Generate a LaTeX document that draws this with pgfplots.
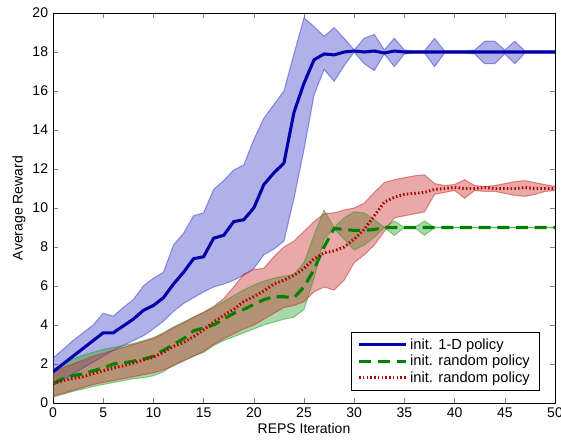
\documentclass[border=0pt]{standalone}
\usepackage{fontspec}
\setmainfont{Liberation Sans}
\usepackage{pgfplots}
\pgfplotsset{compat=1.18}
\usepgfplotslibrary{fillbetween}

\definecolor{lblue}{RGB}{0,0,170}
\definecolor{lgreen}{RGB}{0,128,0}
\definecolor{lred}{RGB}{175,0,0}
\definecolor{bblue}{RGB}{60,60,200}
\definecolor{bgreen}{RGB}{40,160,40}
\definecolor{bred}{RGB}{200,40,40}

% mean and band (upper/lower) per iteration
\pgfplotstableread{
x  bm    bu    bl    gm    gu    gl    rm    ru    rl
0  1.6   2.3   0.9   1.0   1.7   0.3   1.0   1.6   0.35
1  2.0   2.75  1.2   1.25  2.0   0.45  1.15  1.8   0.5
2  2.4   3.2   1.5   1.4   2.25  0.6   1.25  2.0   0.65
3  2.8   3.6   1.8   1.5   2.45  0.72  1.35  2.2   0.8
4  3.2   4.0   2.1   1.65  2.6   0.85  1.5   2.4   0.95
5  3.6   4.6   2.4   1.8   2.75  0.95  1.65  2.55  1.05
6  3.6   4.45  2.7   2.0   2.85  1.05  1.8   2.7   1.15
7  3.95  4.9   2.95  2.05  2.95  1.15  1.9   2.85  1.25
8  4.3   5.3   3.2   2.15  3.05  1.25  2.05  3.0   1.35
9  4.75  6.0   3.45  2.25  3.2   1.3   2.2   3.15  1.45
10 5.0   6.4   3.8   2.4   3.35  1.4   2.35  3.3   1.55
11 5.4   6.7   4.2   2.7   3.6   1.6   2.6   3.55  1.7
12 6.1   8.1   4.7   3.0   3.9   1.95  2.9   3.85  1.9
13 6.7   8.7   5.1   3.3   4.15  2.2   3.1   4.1   2.15
14 7.4   9.6   5.4   3.7   4.4   2.4   3.4   4.4   2.4
15 7.5   9.75  5.7   3.85  4.65  2.6   3.75  4.65  2.65
16 8.45  10.95 5.95  4.0   4.9   2.95  4.15  4.95  3.0
17 8.6   11.4  6.1   4.3   5.2   3.2   4.5   5.35  3.3
18 9.3   11.95 6.3   4.6   5.5   3.4   4.8   5.95  3.55
19 9.4   12.2  6.55  4.8   5.8   3.6   5.2   6.6   3.8
20 10.0  13.5  6.9   5.05  6.05  3.8   5.45  6.85  4.0
21 11.2  14.6  7.6   5.3   6.25  4.0   5.75  6.9   4.3
22 11.8  15.3  7.9   5.45  6.4   4.15  6.1   7.5   4.6
23 12.3  16.0  8.3   5.45  6.5   4.3   6.3   8.0   4.9
24 14.9  17.9  10.5  5.4   6.6   4.4   6.55  8.3   5.0
25 16.4  19.75 13.0  5.95  7.2   4.8   6.9   8.8   5.2
26 17.6  19.3  15.8  6.85  8.6   6.4   7.4   9.3   5.7
27 17.9  18.8  17.1  8.0   9.9   8.4   7.7   9.7   5.95
28 17.85 19.25 16.5  8.95  9.0   8.95  7.8   9.75  5.8
29 18.0  18.7  17.3  8.9   9.5   8.4   8.0   9.9   6.3
30 18.05 18.1  18.0  8.85  9.8   7.85  8.4   10.0  7.2
31 18.0  18.7  17.4  8.85  9.75  8.1   8.9   10.25 7.6
32 18.05 18.9  17.05 8.9   9.4   8.5   9.6   10.8  8.1
33 17.95 18.1  17.9  9.0   9.0   9.0   10.3  11.3  8.8
34 18.05 18.7  17.25 9.0   9.33  8.6   10.55 11.45 9.5
35 18.0  18.1  17.9  9.0   9.0   9.0   10.7  11.55 9.6
36 18.0  18.05 17.95 9.0   9.0   9.0   10.75 11.65 9.7
37 18.0  18.05 17.95 9.0   9.33  8.6   10.8  11.7  9.8
38 18.0  18.7  17.25 9.0   9.0   9.0   10.95 11.25 10.7
39 18.0  18.05 17.95 9.0   9.0   9.0   11.0  11.15 10.8
40 18.0  18.05 17.95 9.0   9.0   9.0   11.05 11.2  10.9
41 18.0  18.05 17.95 9.0   9.0   9.0   11.0  11.45 10.5
42 18.0  18.1  17.9  9.0   9.0   9.0   11.0  11.15 10.9
43 18.0  18.55 17.4  9.0   9.0   9.0   11.05 11.1  10.85
44 18.0  18.55 17.4  9.0   9.0   9.0   11.0  11.15 10.85
45 18.0  18.1  17.9  9.0   9.0   9.0   11.0  11.25 10.75
46 18.0  18.55 17.4  9.0   9.0   9.0   11.0  11.35 10.65
47 18.0  18.05 17.95 9.0   9.0   9.0   11.05 11.4  10.6
48 18.0  18.05 17.95 9.0   9.0   9.0   11.0  11.3  10.7
49 18.0  18.05 17.95 9.0   9.0   9.0   11.0  11.2  10.85
50 18.0  18.05 17.95 9.0   9.0   9.0   11.0  11.1  10.9
}\data

\begin{document}
\fontsize{10.5}{12}\selectfont
\begin{tikzpicture}
\begin{axis}[
  scale only axis,
  width=376.5pt, height=292.5pt,
  xmin=0, xmax=50, ymin=0, ymax=20,
  xtick={0,5,...,50}, ytick={0,2,...,20},
  tick pos=both, tick align=inside,
  major tick length=3.5pt,
  /pgf/number format/assume math mode=true,
  ticklabel style={font=\fontsize{10.5}{12}\selectfont},
  xlabel={REPS Iteration}, ylabel={Average Reward},
  label style={font=\fontsize{10.5}{12}\selectfont},
  xlabel style={yshift=3pt},
  ylabel style={yshift=-2pt},
  legend cell align=left,
  legend style={at={(0.969,0.032)}, anchor=south east, draw=black,
    line width=0.6pt, font=\fontsize{11}{12}\selectfont,
    row sep=-1.2pt, inner xsep=5pt, inner ysep=2.5pt,
    nodes={inner xsep=2pt}},
  legend image code/.code={\draw[#1] (0pt,0pt) -- (35pt,0pt);},
]
% blue band
\addplot[name path=bu, draw=bblue, draw opacity=0.5, line width=0.8pt, forget plot] table[x=x,y=bu]{\data};
\addplot[name path=bl, draw=bblue, draw opacity=0.5, line width=0.8pt, forget plot] table[x=x,y=bl]{\data};
\addplot[fill=bblue, fill opacity=0.4, draw=none, forget plot] fill between[of=bu and bl];
% green band
\addplot[name path=gu, draw=bgreen, draw opacity=0.5, line width=0.8pt, forget plot] table[x=x,y=gu]{\data};
\addplot[name path=gl, draw=bgreen, draw opacity=0.5, line width=0.8pt, forget plot] table[x=x,y=gl]{\data};
\addplot[fill=bgreen, fill opacity=0.4, draw=none, forget plot] fill between[of=gu and gl];
% red band
\addplot[name path=ru, draw=bred, draw opacity=0.5, line width=0.8pt, forget plot] table[x=x,y=ru]{\data};
\addplot[name path=rl, draw=bred, draw opacity=0.5, line width=0.8pt, forget plot] table[x=x,y=rl]{\data};
\addplot[fill=bred, fill opacity=0.4, draw=none, forget plot] fill between[of=ru and rl];
% means
\addplot[lblue, line width=2.3pt] table[x=x,y=bm]{\data};
\addplot[lgreen, line width=2.3pt, dash pattern=on 9pt off 5pt] table[x=x,y=gm]{\data};
\addplot[lred, line width=2.2pt, dash pattern=on 1.1pt off 1.7pt] table[x=x,y=rm]{\data};
\legend{init. 1-D policy, init. random policy, init. random policy}
\end{axis}
\pgfresetboundingbox
\path[use as bounding box] ([xshift=-39.75pt,yshift=-30.75pt]current axis.south west)
  rectangle ([xshift=4.5pt,yshift=9.75pt]current axis.north east);
\end{tikzpicture}
\end{document}
